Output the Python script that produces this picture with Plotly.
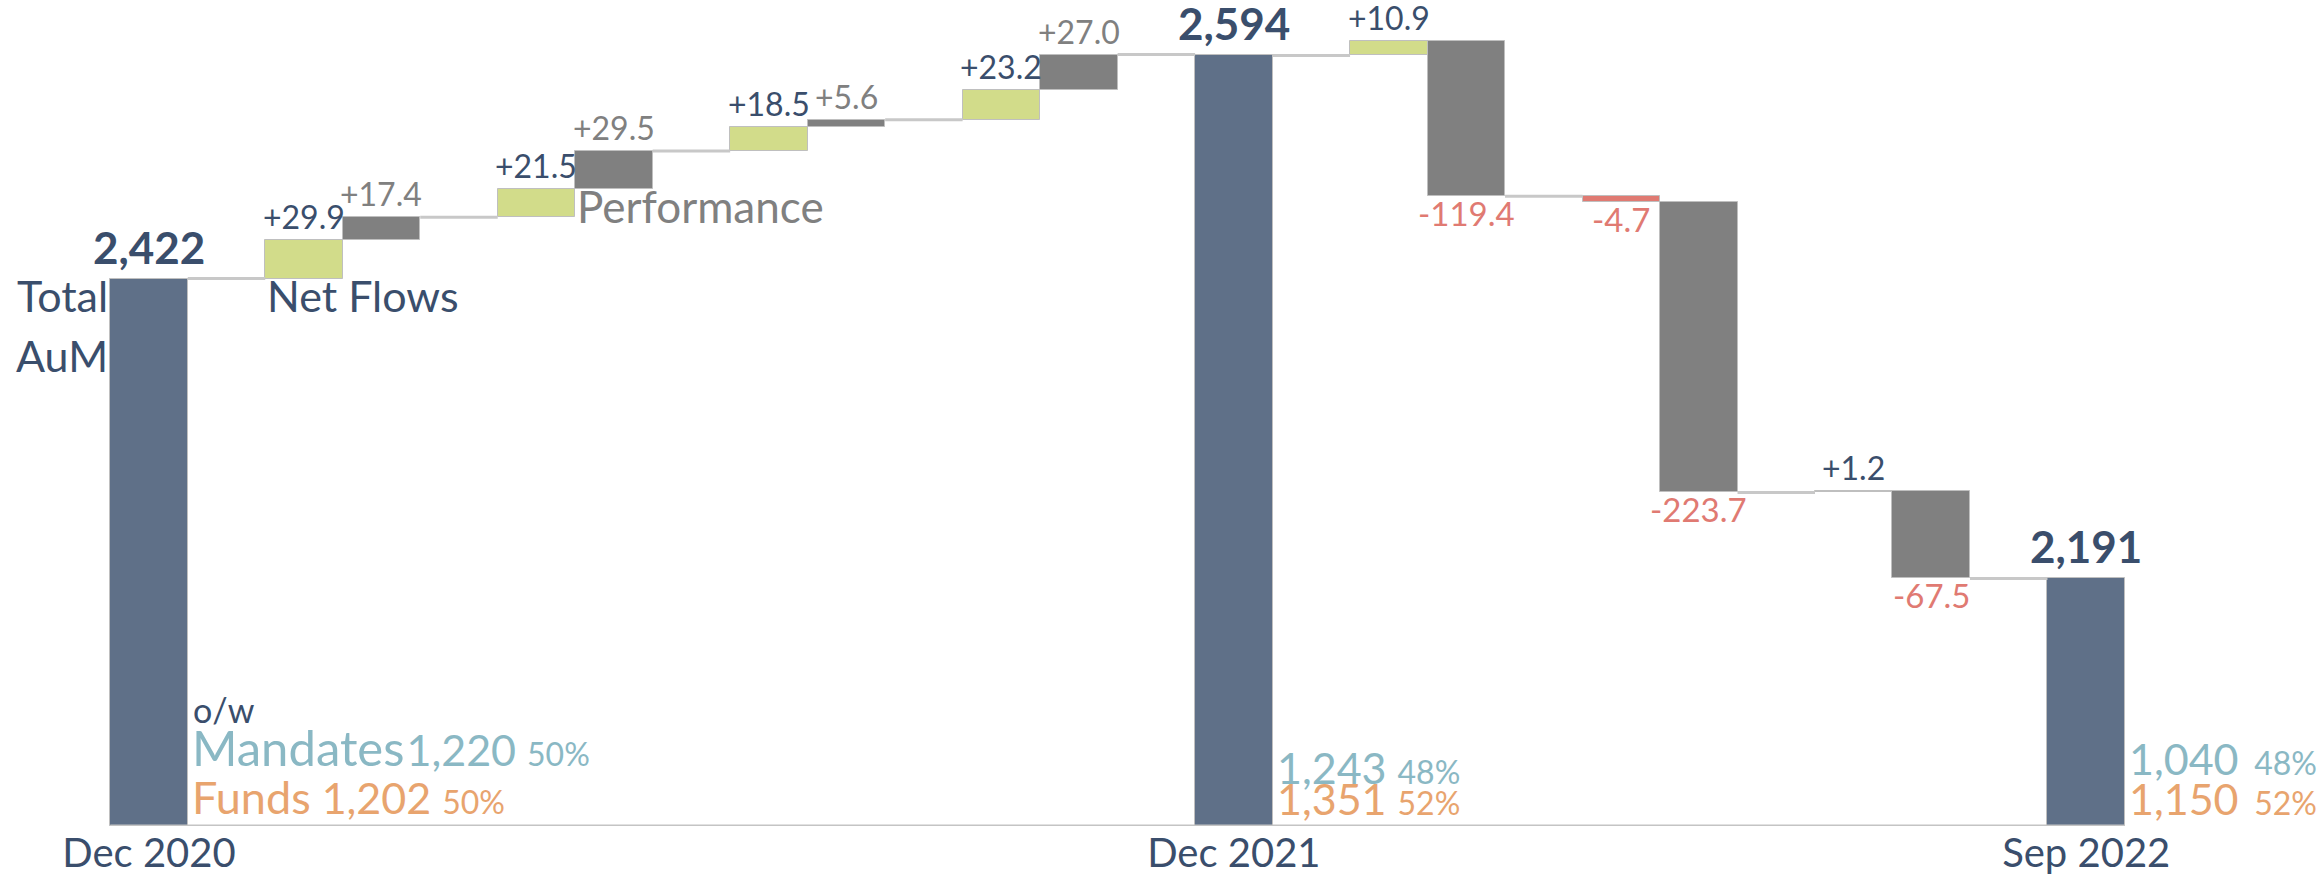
import plotly.graph_objects as go

# ---------------- data ----------------
quarters = ["Q1 2021", "Q2 2021", "Q3 2021", "Q4 2021", "Q1 2022", "Q2 2022", "Q3 2022"]
quarter_year = [2021, 2021, 2021, 2021, 2022, 2022, 2022]
net_flows = [29.9, 21.5, 18.5, 23.2, 10.9, -4.7, 1.2]
performance = [17.4, 29.5, 5.6, 27.0, -119.4, -223.7, -67.5]
total_labels = ["Dec 2020", "Dec 2021", "Sep 2022"]
total_values = [2422, 2594, 2191]
mandates = [1220, 1243, 1040]
mandates_pct = [50, 48, 48]
funds = [1202, 1351, 1150]
funds_pct = [50, 52, 52]
axis_floor = 2000

# ---------------- styles ----------------
FONT = "Lato"
DARK = "#3a4e6c"
TOTAL_C = "#5f7088"
GREEN = "#d2dc8a"
GREY = "#808080"
RED = "#e07a72"
TEAL = "#8ab8c4"
ORANGE = "#e8a46e"
LINE = "#c8c8c8"

# ---------------- build sequence of slots ----------------
seq = [("total", 0)]
t = 1
for i in range(len(quarters)):
    seq += [("gap", None), ("nf", i), ("perf", i)]
    if i + 1 < len(quarters) and quarter_year[i + 1] != quarter_year[i]:
        seq += [("gap", None), ("total", t)]
        t += 1
seq += [("gap", None), ("total", t)]

bx, bbase, bh, bcol = [], [], [], []
conn_x, conn_y = [], []
annotations = []
level = None
prev_slot = None
tick_vals = []

for slot, (kind, idx) in enumerate(seq):
    if kind == "gap":
        continue
    if kind == "total":
        v = total_values[idx]
        bx.append(slot); bbase.append(axis_floor); bh.append(v - axis_floor); bcol.append(TOTAL_C)
        tick_vals.append(slot)
        annotations.append(dict(x=slot, y=v, xref="x", yref="y", text=f"<b>{v:,}</b>",
                                showarrow=False, yanchor="bottom", yshift=4,
                                font=dict(size=44, color=DARK, family=FONT)))
        new_level = v
    else:
        v = net_flows[idx] if kind == "nf" else performance[idx]
        new_level = level + v
        bx.append(slot); bbase.append(min(level, new_level)); bh.append(abs(v))
        if kind == "nf":
            bcol.append(GREEN if v >= 0 else RED)
            tcol = DARK if v >= 0 else RED
        else:
            bcol.append(GREY)
            tcol = GREY if v >= 0 else RED
        if v >= 0:
            annotations.append(dict(x=slot, y=new_level, xref="x", yref="y", text=f"{v:+.1f}",
                                    showarrow=False, yanchor="bottom", yshift=2,
                                    font=dict(size=32, color=tcol, family=FONT)))
        else:
            annotations.append(dict(x=slot, y=new_level, xref="x", yref="y", text=f"{v:+.1f}",
                                    showarrow=False, yanchor="top", yshift=5,
                                    font=dict(size=33, color=tcol, family=FONT)))
    if prev_slot is not None:
        conn_x += [prev_slot + 0.5, slot - 0.5, None]
        conn_y += [level, level, None]
    level = new_level
    prev_slot = slot

fig = go.Figure()
fig.add_trace(go.Scatter(x=conn_x, y=conn_y, mode="lines", line=dict(color=LINE, width=3),
                         hoverinfo="skip", showlegend=False))
fig.add_trace(go.Bar(x=bx, y=bh, base=bbase, width=1.0,
                     marker=dict(color=bcol, line=dict(color="#bfbfbf", width=1)),
                     showlegend=False, hoverinfo="skip"))

# category captions
first_nf_slot = [s for s, (k, i) in enumerate(seq) if k == "nf"][0]
first_perf_slot = [s for s, (k, i) in enumerate(seq) if k == "perf"][1]
annotations.append(dict(x=-0.5, y=total_values[0], xref="x", yref="y", text="Total",
                        showarrow=False, xanchor="right", yanchor="top", yshift=11,
                        font=dict(size=43, color=DARK, family=FONT)))
annotations.append(dict(x=-0.5, y=total_values[0], xref="x", yref="y", text="AuM",
                        showarrow=False, xanchor="right", yanchor="top", yshift=11 - 60,
                        font=dict(size=43, color=DARK, family=FONT)))
annotations.append(dict(x=first_nf_slot - 0.5, y=total_values[0], xref="x", yref="y", text="Net Flows",
                        showarrow=False, xanchor="left", yanchor="top", yshift=11,
                        font=dict(size=43, color=DARK, family=FONT)))
perf_base = bbase[bx.index(first_perf_slot)]
annotations.append(dict(x=first_perf_slot - 0.5, y=perf_base, xref="x", yref="y", text="Performance",
                        showarrow=False, xanchor="left", yanchor="top", yshift=11,
                        font=dict(size=44, color=GREY, family=FONT)))

# o/w split blocks
for k, slot in enumerate(tick_vals):
    if k == 0:
        annotations.append(dict(x=slot + 0.5, y=axis_floor, xref="x", yref="y", text="o/w",
                                showarrow=False, xanchor="left", yanchor="bottom", yshift=94, xshift=3,
                                font=dict(size=34, color=DARK, family=FONT)))
        mtxt = (f"<span style='font-size:49px'>Mandates</span><span style='font-size:8px'> </span>"
                f"{mandates[k]:,} <span style='font-size:32px'>{mandates_pct[k]}%</span>")
        ftxt = (f"<span style='font-size:45px'>Funds</span> "
                f"{funds[k]:,} <span style='font-size:32px'>{funds_pct[k]}%</span>")
        my = 48
    else:
        gap = " " if k == 1 else " <span style='font-size:18px'> </span>"
        mtxt = f"{mandates[k]:,}{gap}<span style='font-size:32px'>{mandates_pct[k]}%</span>"
        ftxt = f"{funds[k]:,}{gap}<span style='font-size:32px'>{funds_pct[k]}%</span>"
        my = 31 if k == 1 else 40
    annotations.append(dict(x=slot + 0.5, y=axis_floor, xref="x", yref="y", text=mtxt,
                            showarrow=False, xanchor="left", yanchor="bottom", yshift=my, xshift=2,
                            font=dict(size=43, color=TEAL, family=FONT)))
    annotations.append(dict(x=slot + 0.5, y=axis_floor, xref="x", yref="y", text=ftxt,
                            showarrow=False, xanchor="left", yanchor="bottom", yshift=0, xshift=2,
                            font=dict(size=43, color=ORANGE, family=FONT)))

fig.add_shape(type="line", x0=-0.5, x1=tick_vals[-1] + 0.5, y0=axis_floor, y1=axis_floor,
              xref="x", yref="y", line=dict(color="#c4c4c4", width=3), layer="above")

fig.update_layout(
    width=2321, height=876,
    margin=dict(l=0, r=0, t=0, b=47),
    plot_bgcolor="white", paper_bgcolor="white",
    font=dict(family=FONT, color=DARK),
    annotations=annotations,
    xaxis=dict(range=[-1.923, 28.03], tickvals=tick_vals, ticktext=total_labels,
               showgrid=False, zeroline=False, showline=False, ticks="",
               tickfont=dict(size=40, color=DARK, family=FONT)),
    yaxis=dict(range=[axis_floor, 2636.7], visible=False, showgrid=False, zeroline=False),
    bargap=0,
)
fig.write_html("out.html", config={"displayModeBar": False},
               post_script="document.body.style.margin='0';document.body.style.overflow='hidden';")
